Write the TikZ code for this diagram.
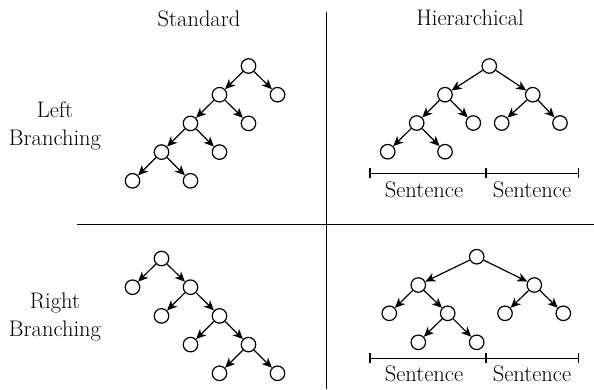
\documentclass[tikz,border=0pt]{standalone}
\usepackage{fontspec}
\usetikzlibrary{arrows.meta}

\begin{document}
\begin{tikzpicture}[x=1pt,y=-1pt,>={Stealth[length=10pt,width=9pt,inset=3pt]},
  knot/.style={circle,draw,line width=1.2pt,minimum size=14.5pt,inner sep=0pt},
  edge/.style={->,line width=1.2pt},
  rule/.style={line width=1.2pt},
  lbl/.style={font=\fontsize{22.5}{28}\selectfont,align=center,inner sep=0pt}]
 \useasboundingbox (0,0) rectangle (594,389);
 % headings and dividers
 \node[lbl,anchor=base] (std) at (199,26) {Standard};
 \node[lbl,anchor=base] (hier) at (470,25) {Hierarchical};
 \node[lbl] (left) at (55,126) {Left\\Branching};
 \node[lbl] (right) at (55,316.5) {Right\\Branching};
 \draw[rule] (326.7,11.7)--(326.7,389);
 \draw[rule] (77.3,224.3)--(594,224.3);
 % standard, left branching
 \foreach \n/\x/\y in {0/248.5/66,1/219.5/94.7,2/277.5/94.7,3/190.5/123.4,4/248.5/123.4,
   5/161.5/152.1,6/219.5/152.1,7/132.5/180.8,8/190.5/180.8}{
  \node[knot] (tl\n) at (\x,\y) {};
 }
 \foreach \a/\b in {0/1,0/2,1/3,1/4,3/5,3/6,5/7,5/8}{
  \draw[edge] (tl\a)--(tl\b);
 }
 % standard, right branching
 \foreach \n/\x/\y in {0/161.5/258.5,1/132.5/287.2,2/190.5/287.2,3/161.5/315.9,4/219.5/315.9,
   5/190.5/344.6,6/248.5/344.6,7/219.5/373.3,8/277.5/373.3}{
  \node[knot] (bl\n) at (\x,\y) {};
 }
 \foreach \a/\b in {0/1,0/2,2/3,2/4,4/5,4/6,6/7,6/8}{
  \draw[edge] (bl\a)--(bl\b);
 }
 % hierarchical, left branching
 \foreach \n/\x/\y in {0/489.3/66,1/445/94.7,2/532.7/94.7,3/416.7/123,4/473.3/123,
   5/501.7/123,6/560/123,7/387.7/151.7,8/445/151.7}{
  \node[knot] (tr\n) at (\x,\y) {};
 }
 \foreach \a/\b in {0/1,0/2,1/3,1/4,2/5,2/6,3/7,3/8}{
  \draw[edge] (tr\a)--(tr\b);
 }
 % hierarchical, right branching
 \foreach \n/\x/\y in {0/476.7/256.7,1/418.3/285,2/534.3/285,3/389.3/313.3,4/447.7/313.3,
   5/505/313.3,6/563.3/313.3,7/418.3/342.3,8/476.7/342.3}{
  \node[knot] (br\n) at (\x,\y) {};
 }
 \foreach \a/\b in {0/1,0/2,1/3,1/4,2/5,2/6,4/7,4/8}{
  \draw[edge] (br\a)--(br\b);
 }
 % sentence spans
 \foreach \r/\y in {t/173.3,b/358.3}{
  \coordinate (\r a) at (370,\y);
  \coordinate (\r b) at (486,\y);
  \coordinate (\r c) at (578.7,\y);
  \draw[rule] (\r a)--(\r c);
  \foreach \p in {a,b,c}{
   \draw[rule] ([yshift=-5pt]\r\p)--([yshift=5pt]\r\p);
  }
 }
 \node[lbl,anchor=base] (sen1) at (424,197) {Sentence};
 \node[lbl,anchor=base] (sen2) at (532,197) {Sentence};
 \node[lbl,anchor=base] (sen3) at (424,381.5) {Sentence};
 \node[lbl,anchor=base] (sen4) at (532,381.5) {Sentence};
\end{tikzpicture}
\end{document}
